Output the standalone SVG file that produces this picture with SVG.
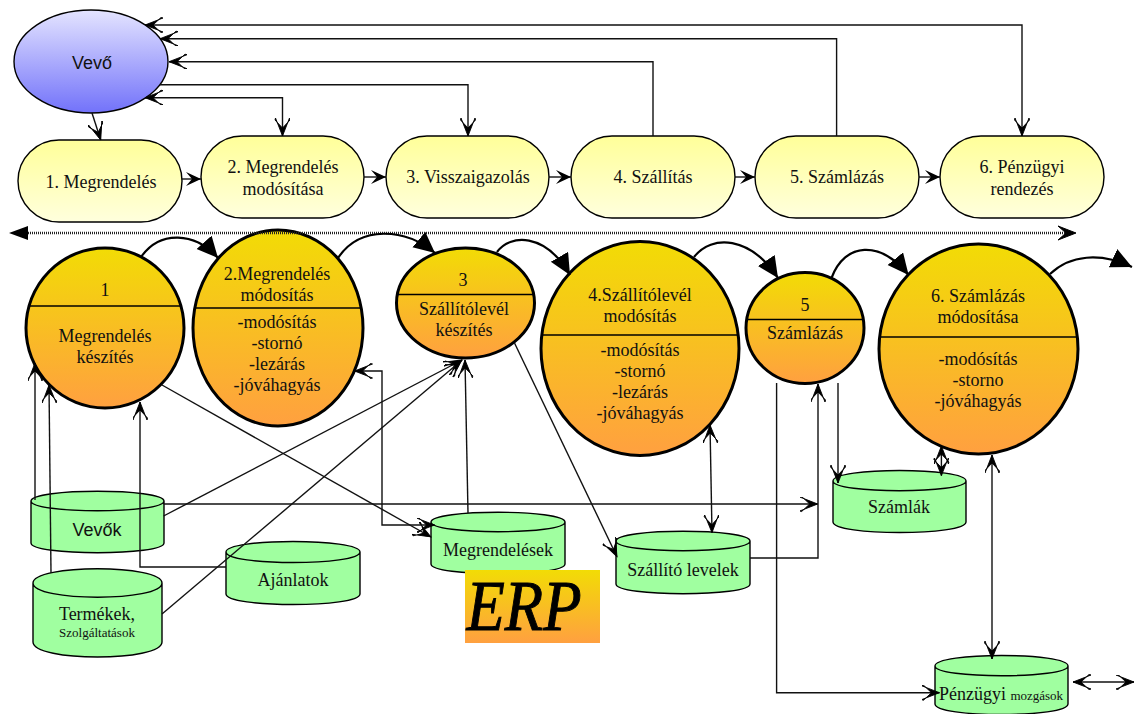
<svg xmlns="http://www.w3.org/2000/svg" width="1135" height="714" viewBox="0 0 1135 714">
<style>
text{font-family:"Liberation Serif","Times New Roman",serif;font-size:18px;text-anchor:middle;fill:#111}
.sans{font-family:"Liberation Sans",Arial,sans-serif}
.sm{font-size:13px}
.pill{fill:url(#gp);stroke:#000;stroke-width:1.4}
.circ{fill:url(#gc);stroke:#000;stroke-width:3}
.div{stroke:#000;stroke-width:1.6;fill:none}
.cyl{fill:#a0ffa0;stroke:#000;stroke-width:1.4}
.c{fill:none;stroke:#111;stroke-width:1.4;marker-end:url(#a)}
.d{fill:none;stroke:#111;stroke-width:1.4;marker-start:url(#a);marker-end:url(#a)}
.s{marker-start:url(#a);fill:none;stroke:#111;stroke-width:1.4}
.f{fill:none;stroke:#000;stroke-width:2.2;marker-end:url(#t)}
.pa{fill:none;stroke:#111;stroke-width:1.4;marker-end:url(#b)}
</style>
<defs>
<linearGradient id="gp" x1="0" y1="0" x2="0" y2="1"><stop offset="0" stop-color="#ffff99"/><stop offset="1" stop-color="#ffffdd"/></linearGradient>
<linearGradient id="gc" x1="0" y1="0" x2="0" y2="1"><stop offset="0" stop-color="#f2dc05"/><stop offset="1" stop-color="#ffa040"/></linearGradient>
<linearGradient id="gv" x1="0" y1="0" x2="0" y2="1"><stop offset="0" stop-color="#e4e4ff"/><stop offset="1" stop-color="#7272fa"/></linearGradient>
<marker id="a" markerUnits="userSpaceOnUse" markerWidth="20" markerHeight="16" refX="18" refY="7.500" orient="auto-start-reverse"><path d="M18,7.500 L0,0.500 L2,0 L10,7.500 L2,15 L0,14.500 Z" fill="#000" stroke="#000" stroke-width=".9"/></marker>
<marker id="b" markerUnits="userSpaceOnUse" markerWidth="18" markerHeight="16" refX="16" refY="7" orient="auto"><path d="M16,7 L1,0 L7,7 L1,14 Z" fill="#000"/></marker>
<marker id="t" markerUnits="userSpaceOnUse" markerWidth="24" markerHeight="22" refX="21" refY="10" orient="auto"><path d="M21,10 L0,0 L0,20 Z" fill="#000"/></marker>
</defs>

<g id="vevo"><ellipse cx="91" cy="61.500" rx="77" ry="51.500" fill="url(#gv)" stroke="#000" stroke-width="1.4"/><text class="sans" x="92" y="69">Vevő</text></g>

<g id="p1"><rect class="pill" x="18" y="140" width="164" height="82" rx="41"/><text x="101" y="188">1. Megrendelés</text></g>
<g id="p2"><rect class="pill" x="201" y="136" width="163" height="82" rx="41"/><text x="283" y="173">2. Megrendelés</text><text x="283" y="195">modósítása</text></g>
<g id="p3"><rect class="pill" x="386" y="136" width="163" height="82" rx="41"/><text x="468" y="183">3. Visszaigazolás</text></g>
<g id="p4"><rect class="pill" x="571" y="136" width="164" height="82" rx="41"/><text x="653" y="183">4. Szállítás</text></g>
<g id="p5"><rect class="pill" x="755" y="136" width="164" height="82" rx="41"/><text x="837" y="183">5. Számlázás</text></g>
<g id="p6"><rect class="pill" x="940" y="136" width="164" height="82" rx="41"/><text x="1022" y="173">6. Pénzügyi</text><text x="1022" y="195">rendezés</text></g>

<g id="c1"><ellipse class="circ" cx="105" cy="328" rx="79" ry="80"/><path class="div" d="M29,306H181"/><text x="105" y="296">1</text><text x="105" y="342">Megrendelés</text><text x="105" y="363">készítés</text></g>
<g id="c2"><ellipse class="circ" cx="278" cy="328" rx="85" ry="98"/><path class="div" d="M195,308H361"/><text x="277" y="280">2.Megrendelés</text><text x="277" y="301">módosítás</text><text x="277" y="328">-modósítás</text><text x="277" y="349">-stornó</text><text x="277" y="370">-lezárás</text><text x="277" y="391">-jóváhagyás</text></g>
<g id="c3"><ellipse class="circ" cx="465.500" cy="303" rx="69" ry="55"/><path class="div" d="M398,294.500H533"/><text x="463" y="286">3</text><text x="464" y="315">Szállítólevél</text><text x="464" y="336">készítés</text></g>
<g id="c4"><ellipse class="circ" cx="640" cy="348.500" rx="99" ry="107"/><path class="div" d="M541,335H738"/><text x="640" y="301">4.Szállítólevél</text><text x="640" y="322">modósítás</text><text x="640" y="356">-modósítás</text><text x="640" y="377">-stornó</text><text x="640" y="398">-lezárás</text><text x="640" y="419">-jóváhagyás</text></g>
<g id="c5"><ellipse class="circ" cx="805" cy="328" rx="59" ry="55.500"/><path class="div" d="M747,319.500H863"/><text x="805" y="311">5</text><text x="805" y="339">Számlázás</text></g>
<g id="c6"><ellipse class="circ" cx="978.500" cy="349" rx="99.500" ry="105"/><path class="div" d="M880,337H1077"/><text x="978" y="302">6. Számlázás</text><text x="978" y="323">módosítása</text><text x="978" y="365">-modósítás</text><text x="978" y="386">-storno</text><text x="978" y="407">-jóváhagyás</text></g>

<g id="d-vevok"><path class="cyl" d="M31,501V543C31,556 164,556 164,543V501C164,488 31,488 31,501C31,514 164,514 164,501"/><text class="sans" x="97" y="536">Vevők</text></g>
<g id="d-termekek"><path class="cyl" d="M33,583V642C33,662 162,662 162,642V583C162,564 33,564 33,583C33,602 162,602 162,583"/><text x="97" y="620">Termékek,</text><text class="sm" x="97" y="637">Szolgáltatások</text></g>
<g id="d-ajanlatok"><path class="cyl" d="M226,552V594C226,608 360,608 360,594V552C360,538 226,538 226,552C226,566 360,566 360,552"/><text x="293" y="586">Ajánlatok</text></g>
<g id="d-megrend"><path class="cyl" d="M431,522V564C431,577 565,577 565,564V522C565,509 431,509 431,522C431,535 565,535 565,522"/><text x="498" y="556">Megrendelések</text></g>
<g id="d-szallito"><path class="cyl" d="M616,541V584C616,597 750,597 750,584V541C750,528 616,528 616,541C616,554 750,554 750,541"/><text x="683" y="576">Szállító levelek</text></g>
<g id="d-szamlak"><path class="cyl" d="M833,481V522C833,536 966,536 966,522V481C966,467 833,467 833,481C833,494 966,494 966,481"/><text x="899" y="513">Számlák</text></g>
<g id="d-penzugyi"><path class="cyl" d="M935,666V704C935,718 1068,718 1068,704V666C1068,652 935,652 935,666C935,679 1068,679 1068,666"/><text x="1001" y="700">Pénzügyi <tspan class="sm">mozgások</tspan></text></g>

<g id="connectors">
<path class="d" d="M145,25H1022V136"/>
<path class="s" d="M160,38.700H836.600V136"/>
<path class="s" d="M169,61.700H653V136"/>
<path class="c" d="M160,84.700H468V136"/>
<path class="d" d="M145,97.700H282.500V136"/>
<path class="c" d="M92,113L100.700,140"/>
<path class="pa" d="M182,179H201"/>
<path class="pa" d="M364,177H386"/>
<path class="pa" d="M549,177H571"/>
<path class="pa" d="M735,177H755"/>
<path class="pa" d="M919,177H940"/>
<path d="M28,233H1068" fill="none" stroke="#222" stroke-width="2.500" stroke-dasharray="1 1"/>
<path d="M9,233L28,226V240Z" fill="#000"/>
<path d="M1076,233L1058,226L1066,233L1058,240Z" fill="#000" stroke="#000"/>
<path class="f" d="M141,257C160,230 195,232 218,258"/>
<path class="f" d="M338,258C360,225 405,228 435,253"/>
<path class="f" d="M497,252C510,234 545,232 570,275"/>
<path class="f" d="M694,257C712,234 750,236 778,278"/>
<path class="f" d="M831.500,278C845,242 880,240 908.600,275"/>
<path class="f" d="M1050,274C1070,255 1100,252 1132,267"/>
<path class="c" d="M35,500V363"/>
<path class="c" d="M51,573L49,385"/>
<path class="c" d="M226,567H140V402"/>
<path class="c" d="M163.600,516L462,360"/>
<path class="c" d="M162,614L462,360"/>
<path class="c" d="M468,513L465,360"/>
<path class="c" d="M162,385L431,537"/>
<path class="d" d="M354.500,371H382V525H434.500"/>
<path class="c" d="M514.500,343L617,556.700"/>
<path class="c" d="M163.600,504H817.700"/>
<path class="d" d="M710,425L712,532.700"/>
<path class="c" d="M750,558H818V384"/>
<path class="c" d="M776.600,383V692.700H939.500"/>
<path class="c" d="M838,383V483"/>
<path class="d" d="M941.400,446V475.600"/>
<path class="d" d="M992,455V659"/>
<path class="d" d="M1073,682H1134"/>
</g>

<g id="erp"><rect x="465" y="570" width="135" height="73" fill="url(#gc)"/><text x="524" y="630" textLength="115" lengthAdjust="spacingAndGlyphs" style="font-size:72px;font-style:italic;fill:#000;stroke:#000;stroke-width:1">ERP</text></g>
</svg>
